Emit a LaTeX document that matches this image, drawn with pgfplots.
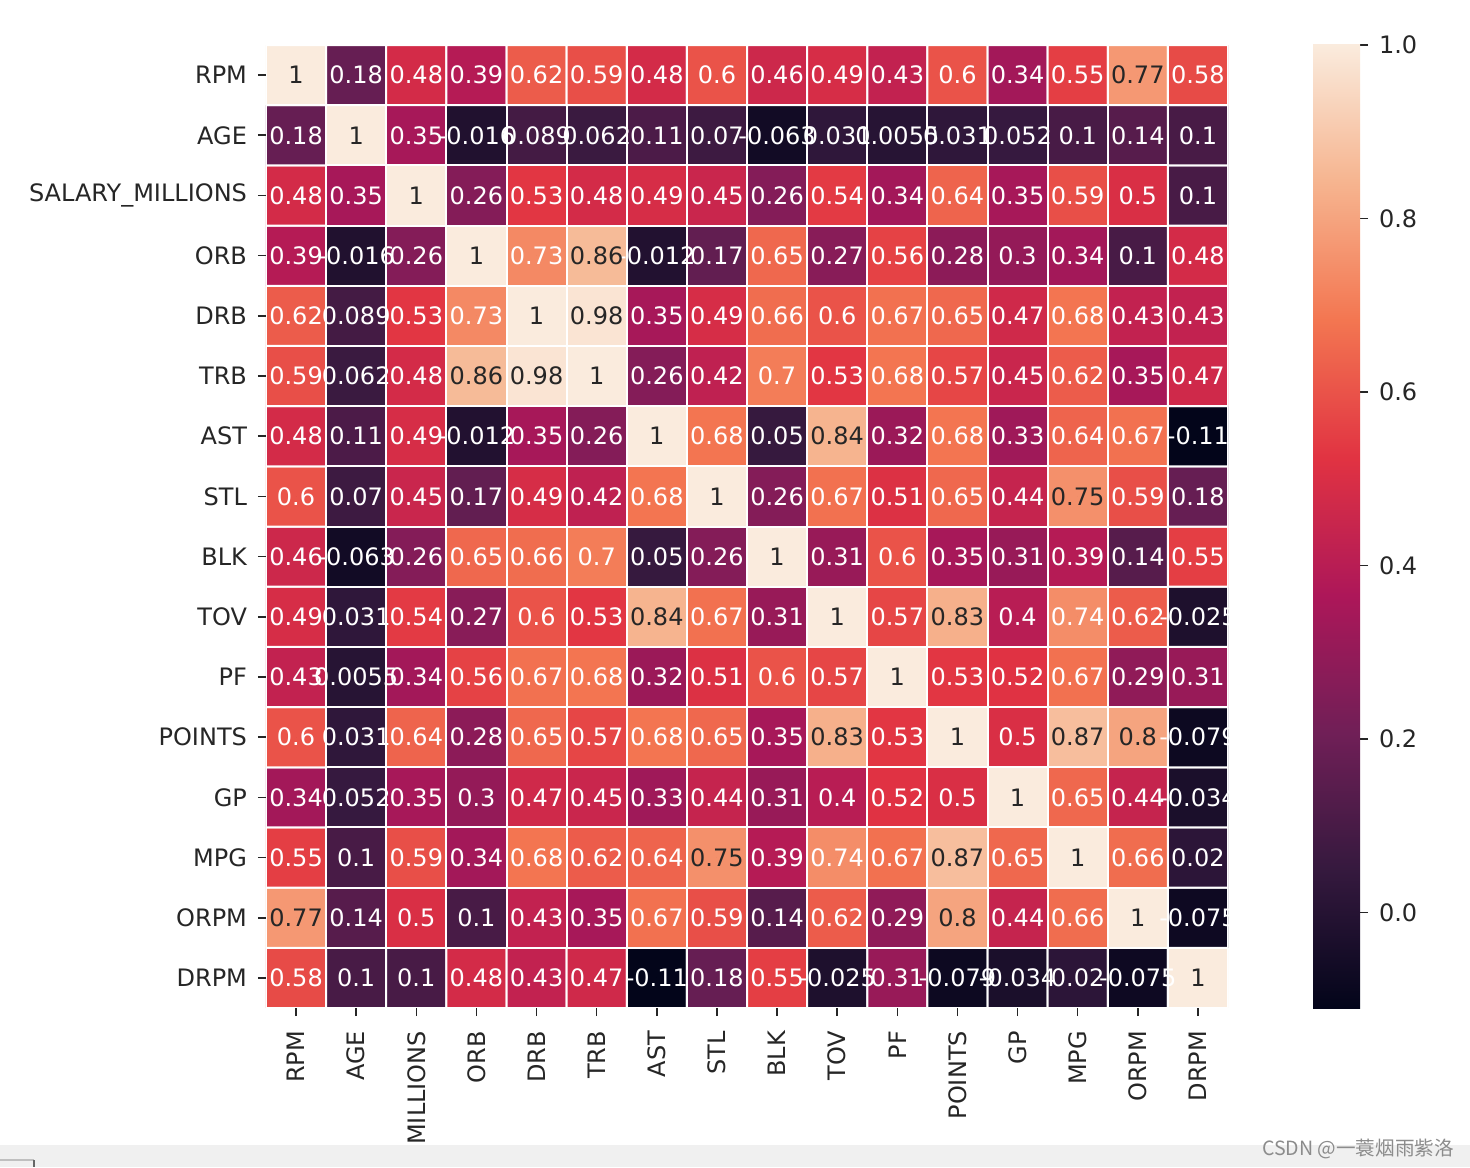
\documentclass[border=0pt]{standalone}
\usepackage{pgfplots}
\pgfplotsset{compat=1.18}
\usepackage{pgfplotstable}
\usepackage{fontspec}
\setmainfont{DejaVu Sans}
\newfontfamily\cjk{Noto Sans CJK SC}
\pgfplotsset{colormap={rocket}{rgb255=(3,5,26) rgb255=(53,25,62) rgb255=(112,31,87) rgb255=(173,23,89) rgb255=(225,51,66) rgb255=(243,118,81) rgb255=(246,180,143) rgb255=(250,235,221)}}
\definecolor{txtdark}{HTML}{262626}
\definecolor{rk0}{RGB}{3,5,26}
\definecolor{rk1}{RGB}{53,25,62}
\definecolor{rk2}{RGB}{112,31,87}
\definecolor{rk3}{RGB}{173,23,89}
\definecolor{rk4}{RGB}{225,51,66}
\definecolor{rk5}{RGB}{243,118,81}
\definecolor{rk6}{RGB}{246,180,143}
\definecolor{rk7}{RGB}{250,235,221}
\pgfdeclareverticalshading{rocketv}{100bp}{color(0bp)=(rk0); color(25bp)=(rk0); color(32.143bp)=(rk1); color(39.286bp)=(rk2); color(46.429bp)=(rk3); color(53.571bp)=(rk4); color(60.714bp)=(rk5); color(67.857bp)=(rk6); color(75bp)=(rk7); color(100bp)=(rk7)}
\pgfplotstableread[row sep=\\]{
x y c\\
0 0 0.58\\ 1 0 0.1\\ 2 0 0.1\\ 3 0 0.48\\ 4 0 0.43\\ 5 0 0.47\\ 6 0 -0.11\\ 7 0 0.18\\ 8 0 0.55\\ 9 0 -0.025\\ 10 0 0.31\\ 11 0 -0.079\\ 12 0 -0.034\\ 13 0 0.02\\ 14 0 -0.075\\ 15 0 1\\
0 1 0.77\\ 1 1 0.14\\ 2 1 0.5\\ 3 1 0.1\\ 4 1 0.43\\ 5 1 0.35\\ 6 1 0.67\\ 7 1 0.59\\ 8 1 0.14\\ 9 1 0.62\\ 10 1 0.29\\ 11 1 0.8\\ 12 1 0.44\\ 13 1 0.66\\ 14 1 1\\ 15 1 -0.075\\
0 2 0.55\\ 1 2 0.1\\ 2 2 0.59\\ 3 2 0.34\\ 4 2 0.68\\ 5 2 0.62\\ 6 2 0.64\\ 7 2 0.75\\ 8 2 0.39\\ 9 2 0.74\\ 10 2 0.67\\ 11 2 0.87\\ 12 2 0.65\\ 13 2 1\\ 14 2 0.66\\ 15 2 0.02\\
0 3 0.34\\ 1 3 0.052\\ 2 3 0.35\\ 3 3 0.3\\ 4 3 0.47\\ 5 3 0.45\\ 6 3 0.33\\ 7 3 0.44\\ 8 3 0.31\\ 9 3 0.4\\ 10 3 0.52\\ 11 3 0.5\\ 12 3 1\\ 13 3 0.65\\ 14 3 0.44\\ 15 3 -0.034\\
0 4 0.6\\ 1 4 0.031\\ 2 4 0.64\\ 3 4 0.28\\ 4 4 0.65\\ 5 4 0.57\\ 6 4 0.68\\ 7 4 0.65\\ 8 4 0.35\\ 9 4 0.83\\ 10 4 0.53\\ 11 4 1\\ 12 4 0.5\\ 13 4 0.87\\ 14 4 0.8\\ 15 4 -0.079\\
0 5 0.43\\ 1 5 0.0055\\ 2 5 0.34\\ 3 5 0.56\\ 4 5 0.67\\ 5 5 0.68\\ 6 5 0.32\\ 7 5 0.51\\ 8 5 0.6\\ 9 5 0.57\\ 10 5 1\\ 11 5 0.53\\ 12 5 0.52\\ 13 5 0.67\\ 14 5 0.29\\ 15 5 0.31\\
0 6 0.49\\ 1 6 0.031\\ 2 6 0.54\\ 3 6 0.27\\ 4 6 0.6\\ 5 6 0.53\\ 6 6 0.84\\ 7 6 0.67\\ 8 6 0.31\\ 9 6 1\\ 10 6 0.57\\ 11 6 0.83\\ 12 6 0.4\\ 13 6 0.74\\ 14 6 0.62\\ 15 6 -0.025\\
0 7 0.46\\ 1 7 -0.063\\ 2 7 0.26\\ 3 7 0.65\\ 4 7 0.66\\ 5 7 0.7\\ 6 7 0.05\\ 7 7 0.26\\ 8 7 1\\ 9 7 0.31\\ 10 7 0.6\\ 11 7 0.35\\ 12 7 0.31\\ 13 7 0.39\\ 14 7 0.14\\ 15 7 0.55\\
0 8 0.6\\ 1 8 0.07\\ 2 8 0.45\\ 3 8 0.17\\ 4 8 0.49\\ 5 8 0.42\\ 6 8 0.68\\ 7 8 1\\ 8 8 0.26\\ 9 8 0.67\\ 10 8 0.51\\ 11 8 0.65\\ 12 8 0.44\\ 13 8 0.75\\ 14 8 0.59\\ 15 8 0.18\\
0 9 0.48\\ 1 9 0.11\\ 2 9 0.49\\ 3 9 -0.012\\ 4 9 0.35\\ 5 9 0.26\\ 6 9 1\\ 7 9 0.68\\ 8 9 0.05\\ 9 9 0.84\\ 10 9 0.32\\ 11 9 0.68\\ 12 9 0.33\\ 13 9 0.64\\ 14 9 0.67\\ 15 9 -0.11\\
0 10 0.59\\ 1 10 0.062\\ 2 10 0.48\\ 3 10 0.86\\ 4 10 0.98\\ 5 10 1\\ 6 10 0.26\\ 7 10 0.42\\ 8 10 0.7\\ 9 10 0.53\\ 10 10 0.68\\ 11 10 0.57\\ 12 10 0.45\\ 13 10 0.62\\ 14 10 0.35\\ 15 10 0.47\\
0 11 0.62\\ 1 11 0.089\\ 2 11 0.53\\ 3 11 0.73\\ 4 11 1\\ 5 11 0.98\\ 6 11 0.35\\ 7 11 0.49\\ 8 11 0.66\\ 9 11 0.6\\ 10 11 0.67\\ 11 11 0.65\\ 12 11 0.47\\ 13 11 0.68\\ 14 11 0.43\\ 15 11 0.43\\
0 12 0.39\\ 1 12 -0.016\\ 2 12 0.26\\ 3 12 1\\ 4 12 0.73\\ 5 12 0.86\\ 6 12 -0.012\\ 7 12 0.17\\ 8 12 0.65\\ 9 12 0.27\\ 10 12 0.56\\ 11 12 0.28\\ 12 12 0.3\\ 13 12 0.34\\ 14 12 0.1\\ 15 12 0.48\\
0 13 0.48\\ 1 13 0.35\\ 2 13 1\\ 3 13 0.26\\ 4 13 0.53\\ 5 13 0.48\\ 6 13 0.49\\ 7 13 0.45\\ 8 13 0.26\\ 9 13 0.54\\ 10 13 0.34\\ 11 13 0.64\\ 12 13 0.35\\ 13 13 0.59\\ 14 13 0.5\\ 15 13 0.1\\
0 14 0.18\\ 1 14 1\\ 2 14 0.35\\ 3 14 -0.016\\ 4 14 0.089\\ 5 14 0.062\\ 6 14 0.11\\ 7 14 0.07\\ 8 14 -0.063\\ 9 14 0.031\\ 10 14 0.0055\\ 11 14 0.031\\ 12 14 0.052\\ 13 14 0.1\\ 14 14 0.14\\ 15 14 0.1\\
0 15 1\\ 1 15 0.18\\ 2 15 0.48\\ 3 15 0.39\\ 4 15 0.62\\ 5 15 0.59\\ 6 15 0.48\\ 7 15 0.6\\ 8 15 0.46\\ 9 15 0.49\\ 10 15 0.43\\ 11 15 0.6\\ 12 15 0.34\\ 13 15 0.55\\ 14 15 0.77\\ 15 15 0.58\\
}\corr
\begin{document}
\begin{tikzpicture}
\path[use as bounding box] (-133pt,-79.5pt) rectangle (602pt,504pt);
\begin{axis}[
  scale only axis, width=481pt, height=481.5pt,
  xmin=-0.5, xmax=15.5, ymin=-0.5, ymax=15.5,
  xtick={0,...,15}, ytick={0,...,15},
  xticklabels={RPM,AGE,MILLIONS,ORB,DRB,TRB,AST,STL,BLK,TOV,PF,POINTS,GP,MPG,ORPM,DRPM},
  yticklabels={RPM,AGE,SALARY\_MILLIONS,ORB,DRB,TRB,AST,STL,BLK,TOV,PF,POINTS,GP,MPG,ORPM,DRPM},
  xtick pos=bottom, ytick pos=left,
  tick align=outside, major tick length=4pt,
  tick style={line width=0.8pt, color=txtdark},
  axis line style={draw=none},
  ticklabel style={font=\fontsize{12}{14}\selectfont, text=txtdark},
  xticklabel style={rotate=90, anchor=east},
  xticklabel shift=4pt, yticklabel shift=2pt,
  colormap name=rocket,
  point meta min=-0.11, point meta max=1,
]
\addplot[matrix plot, shader=faceted, faceted color=white, line width=1pt, mesh/cols=16, point meta=explicit]
  table[x=x, y expr=15-\thisrow{y}, meta=c] {\corr};
\addplot[only marks, mark=*, mark size=0pt, mark options={draw=none, fill=none},
  point meta=explicit symbolic,
  restrict expr to domain={\thisrow{c}}{-2:0.745},
  nodes near coords,
  every node near coord/.append style={anchor=center, inner sep=0pt, text=white, font=\fontsize{12}{14}\selectfont}]
  table[x=x, y expr=15-\thisrow{y}, meta=c] {\corr};
\addplot[only marks, mark=*, mark size=0pt, mark options={draw=none, fill=none},
  point meta=explicit symbolic,
  restrict expr to domain={\thisrow{c}}{0.745:2},
  nodes near coords,
  every node near coord/.append style={anchor=center, inner sep=0pt, text=txtdark, font=\fontsize{12}{14}\selectfont}]
  table[x=x, y expr=15-\thisrow{y}, meta=c] {\corr};
\end{axis}
\begin{axis}[
  at={(523.5pt,0pt)}, anchor=south west,
  scale only axis, width=23.5pt, height=481.5pt,
  xmin=0, xmax=1, ymin=-0.11, ymax=1,
  axis line style={draw=none},
  xtick=\empty,
  ytick={0,0.2,0.4,0.6,0.8,1},
  yticklabels={0.0,0.2,0.4,0.6,0.8,1.0},
  ytick pos=right, yticklabel pos=right,
  tick align=outside, major tick length=4pt,
  tick style={line width=0.8pt, color=txtdark},
  yticklabel style={font=\fontsize{12}{14}\selectfont, text=txtdark},
  yticklabel shift=2pt,
]
\shade[shading=rocketv] (axis cs:0,-0.11) rectangle (axis cs:1,1);
\end{axis}
\fill[black!6] (-133pt,-79.5pt) rectangle (602pt,-68.5pt);
\draw[black!25, line width=0.6pt] (-133pt,-76pt) -- (-116pt,-76pt);
\draw[black!60, line width=0.8pt] (-116pt,-76pt) -- (-116pt,-79.5pt);
\node[text=black!45, font=\cjk\fontsize{9.8}{11}\selectfont, inner sep=0pt] at (546pt,-70.5pt) {CSDN @一蓑烟雨紫洛};
\end{tikzpicture}
\end{document}
